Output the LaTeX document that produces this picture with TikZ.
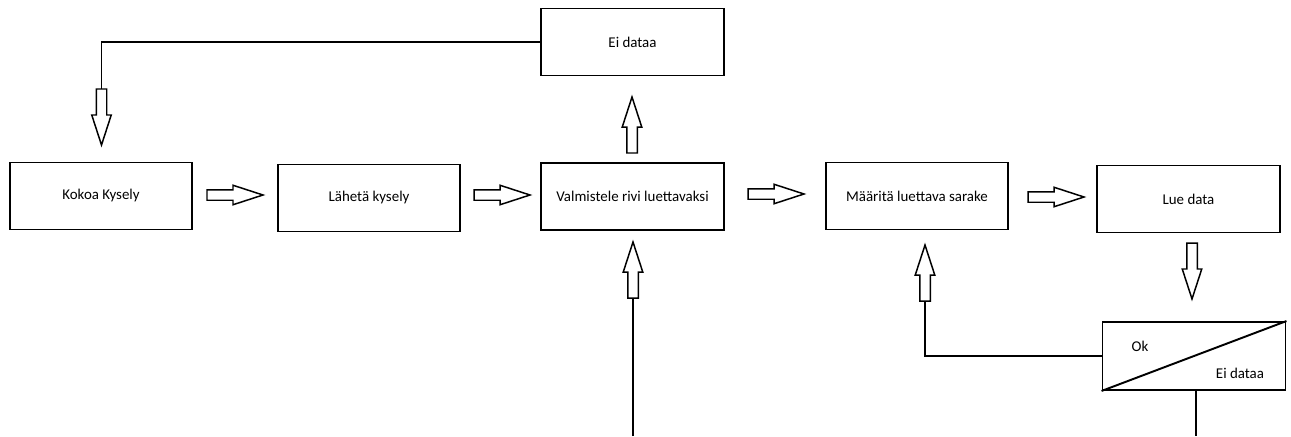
\documentclass[tikz,border=0pt]{standalone}
\usepackage{fontspec}
\setmainfont{Carlito}
\usepackage{tikz}
\usepackage{xcolor}
\usetikzlibrary{shapes.arrows,calc}
\tikzset{
    flow-box/.style = {draw=black, fill=white, line width=1.1pt, rectangle, minimum width=3.65cm, minimum height=1.34cm, inner sep=2pt, font=\fontsize{8.5}{10}\selectfont},
    flow-label/.style = {inner sep=1pt, font=\fontsize{8.5}{10}\selectfont},
    flow-line/.style = {draw=black, line width=1.1pt},
    block-arrow/.style = {single arrow, draw=black, fill=white, line width=0.85pt, inner xsep=0pt, inner ysep=0.09cm, outer sep=0pt, minimum height=1.12cm, single arrow head extend=0.09cm, single arrow tip angle=36, anchor=tail},
}

\begin{document}
\begin{tikzpicture}[x=0.02cm, y=-0.02cm]
\useasboundingbox (0,0) rectangle (1291,436);

% boxes
\node [flow-box] (kokoa) at (101,196) {Kokoa Kysely};
\node [flow-box] (laheta) at (369,198) {Lähetä kysely};
\node [flow-box] (valmistele) at (632.5,196.5) {Valmistele rivi luettavaksi};
\node [flow-box] (eidata-ylos) at (632.5,42) {Ei dataa};
\node [flow-box] (maarita) at (917,196) {Määritä luettava sarake};
\node [flow-box] (lue) at (1188.5,199) {Lue data};
\node [flow-box, minimum width=3.66cm, minimum height=1.36cm] (tulos) at (1194,356) {};
\draw [flow-line] (tulos.south west) -- (tulos.north east);
\node [flow-label] (tulos-ok) at (1140,346) {Ok};
\node [flow-label] (tulos-ei) at (1240,373) {Ei dataa};

% block arrows (placed by their tails)
\node [block-arrow] (nuoli1) at (207,195) {};
\node [block-arrow] (nuoli2) at (474,195) {};
\node [block-arrow] (nuoli3) at (748,194) {};
\node [block-arrow] (nuoli4) at (1028,197) {};
\node [block-arrow, rotate=90] (nuoli-ylos) at (632,153) {};
\node [block-arrow, rotate=-90] (nuoli-alas) at (101.5,89) {};
\node [block-arrow, rotate=90] (nuoli-sisaan) at (633,298) {};
\node [block-arrow, rotate=90] (nuoli-ok) at (925,301) {};
\node [block-arrow, rotate=-90] (nuoli-lue) at (1192,243) {};

% lines
\coordinate (sisaan) at (633,436);
\coordinate (ulos) at (1196,436);
\draw [flow-line] (eidata-ylos.west) -| (nuoli-alas.tail);
\draw [flow-line] (tulos.west) -| (nuoli-ok.tail);
\draw [flow-line] (sisaan) -- (nuoli-sisaan.tail);
\draw [flow-line] (tulos.south -| ulos) -- (ulos);
\end{tikzpicture}
\end{document}
